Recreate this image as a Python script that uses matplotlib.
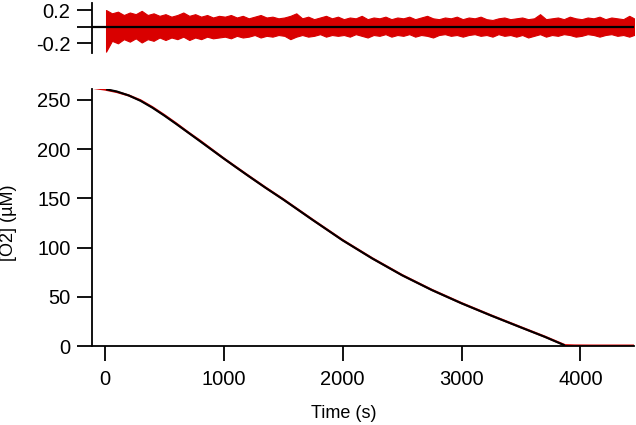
import matplotlib
matplotlib.use("Agg")
import matplotlib.pyplot as plt
import numpy as np

plt.rcParams['font.family'] = ['Liberation Sans', 'DejaVu Sans']

# measured O2 trace (red)
t_data = [-120, 0, 100, 200, 300, 400, 500, 600, 700, 800, 900, 1000, 1100, 1200,
          1350, 1500, 1750, 2000, 2250, 2500, 2750, 3000, 3250, 3500, 3700, 3870,
          3950, 4100, 4300, 4450]
o2_data = [262.5, 260.5, 258.0, 254.5, 249.5, 242.5, 234.5, 226.0, 217.0, 208.5,
           199.5, 190.5, 182.0, 173.5, 161.0, 149.0, 128.0, 107.5, 89.0, 72.0,
           57.0, 43.5, 31.0, 19.0, 9.5, 0.8, 0.5, 0.4, 0.4, 0.4]

# fitted curve (black)
t_fit = [20, 100, 200, 300, 400, 500, 600, 700, 800, 900, 1000, 1100, 1200, 1350,
         1500, 1750, 2000, 2250, 2500, 2750, 3000, 3250, 3500, 3700, 3860]
o2_fit = [260.5, 258.5, 254.5, 249.0, 242.0, 234.0, 225.5, 216.8, 208.0, 199.2,
          190.4, 181.8, 173.3, 160.8, 148.8, 127.8, 107.3, 88.8, 71.8, 56.8,
          43.3, 30.8, 18.8, 9.3, 1.0]

# residual envelope, every 50 s from 10 s
t_res = list(range(10, 4411, 50)) + [4450]
res_hi = [0.20, 0.16, 0.18, 0.14, 0.17, 0.15, 0.19, 0.14, 0.16, 0.13,
          0.15, 0.12, 0.14, 0.17, 0.13, 0.15, 0.12, 0.14, 0.11, 0.13,
          0.12, 0.14, 0.11, 0.13, 0.10, 0.12, 0.14, 0.11, 0.12, 0.10,
          0.11, 0.13, 0.16, 0.10, 0.12, 0.09, 0.11, 0.13, 0.10, 0.12,
          0.09, 0.11, 0.10, 0.13, 0.09, 0.11, 0.10, 0.12, 0.09, 0.11,
          0.10, 0.12, 0.09, 0.11, 0.13, 0.10, 0.09, 0.11, 0.10, 0.12,
          0.09, 0.11, 0.10, 0.12, 0.09, 0.08, 0.10, 0.11, 0.09, 0.10,
          0.11, 0.09, 0.10, 0.15, 0.09, 0.10, 0.11, 0.09, 0.12, 0.10,
          0.09, 0.11, 0.10, 0.12, 0.09, 0.11, 0.10, 0.09, 0.13, 0.10]
res_lo = [-0.30, -0.17, -0.20, -0.15, -0.18, -0.14, -0.19, -0.15, -0.17, -0.13,
          -0.16, -0.13, -0.15, -0.12, -0.16, -0.13, -0.15, -0.12, -0.14, -0.13,
          -0.12, -0.14, -0.11, -0.13, -0.12, -0.10, -0.13, -0.11, -0.12, -0.10,
          -0.11, -0.15, -0.12, -0.10, -0.12, -0.11, -0.09, -0.12, -0.10, -0.11,
          -0.10, -0.12, -0.09, -0.11, -0.13, -0.10, -0.11, -0.09, -0.12, -0.10,
          -0.11, -0.09, -0.12, -0.10, -0.11, -0.13, -0.10, -0.09, -0.11, -0.10,
          -0.12, -0.10, -0.09, -0.11, -0.10, -0.12, -0.09, -0.11, -0.10, -0.12,
          -0.10, -0.13, -0.11, -0.09, -0.12, -0.10, -0.11, -0.09, -0.10, -0.12,
          -0.11, -0.09, -0.10, -0.12, -0.10, -0.09, -0.11, -0.10, -0.12, -0.10]

red = '#d90000'
W, H = 636, 425
fig = plt.figure(figsize=(W / 100, H / 100), dpi=100)

ax = fig.add_axes([92 / W, 79 / H, 542 / W, 257 / H])
axr = fig.add_axes([92 / W, 372 / H, 542 / W, 50 / H])

xlim = (-108, 4450)

ax.plot(t_data, o2_data, color=red, lw=1.6, solid_joinstyle='round')
ax.plot(t_fit, o2_fit, color='black', lw=1.5, solid_joinstyle='round')
ax.set_xlim(*xlim)
ax.set_ylim(0, 261)
ax.set_xticks([0, 1000, 2000, 3000, 4000])
ax.set_yticks([0, 50, 100, 150, 200, 250])

axr.fill_between(t_res, res_lo, res_hi, color=red, lw=0.8, edgecolor=red)
axr.axhline(0, color='black', lw=1.6)
axr.set_xlim(*xlim)
axr.set_ylim(-0.316, 0.284)
axr.set_yticks([-0.2, 0, 0.2])
axr.set_yticklabels(['-0.2', '', '0.2'])
axr.set_xticks([])
for s in ['top', 'right', 'bottom']:
    axr.spines[s].set_visible(False)

for a in (ax, axr):
    for s in ['top', 'right']:
        a.spines[s].set_visible(False)
    a.spines['left'].set_linewidth(1.3)
    a.spines['bottom'].set_linewidth(1.3)
    a.tick_params(direction='out', length=10.5, width=1.3, labelsize=14.5)
    a.tick_params(axis='y', pad=5)
    a.tick_params(axis='x', pad=7)

fig.text(344 / W, 1 - 413 / H, 'Time (s)', ha='center', va='center', fontsize=13)
fig.text(8.5 / W, 1 - 223 / H, '[O2] (µM)', ha='center', va='center',
         rotation=90, fontsize=13)

fig.savefig('out.png', dpi=100)
